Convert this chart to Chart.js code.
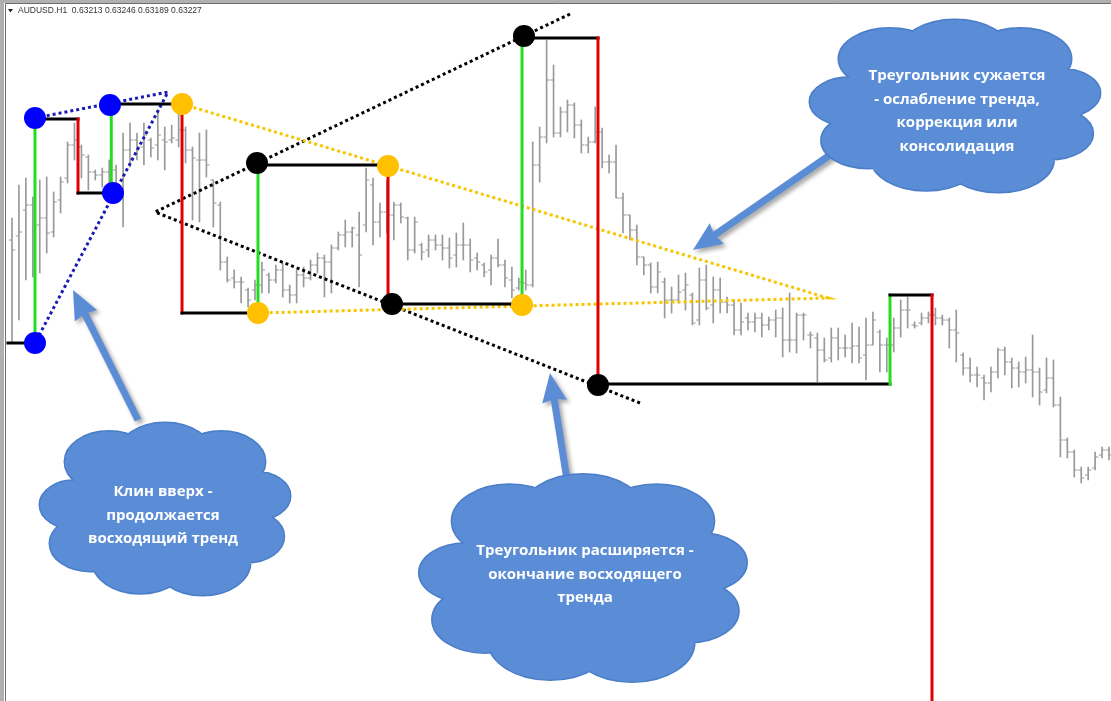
<!DOCTYPE html>
<html><head><meta charset="utf-8">
<script src="https://cdn.jsdelivr.net/npm/chart.js@4.4.0/dist/chart.umd.min.js"></script>
<style>html,body{margin:0;padding:0;background:#fff;overflow:hidden}</style>
</head><body>
<canvas id="c" width="1111" height="701" style="display:block;width:1111px;height:701px"></canvas>
<script>
// AUDUSD H1 bars, prices in points (1e-5)
const highPts = [63664,63730,63744,63706,63740,63746,63716,63746,63816,63854,
63810,63790,63760,63764,63780,63770,63834,63854,63834,63854,
63824,63874,63846,63850,63874,63846,63806,63834,63840,63740,
63696,63586,63560,63546,63524,63540,63576,63554,63570,63574,
63530,63560,63566,63580,63594,63590,63610,63636,63660,63646,
63676,63764,63744,63694,63740,63696,63694,63666,63666,63614,
63630,63630,63630,63624,63634,63654,63622,63594,63574,63590,
63622,63580,63566,63544,63560,63816,63846,64020,63970,63886,
63900,63894,63860,63826,63886,63844,63790,63810,63714,63670,
63650,63586,63574,63576,63544,63526,63550,63554,63514,63564,
63570,63546,63544,63506,63500,63494,63474,63474,63474,63466,
63480,63484,63514,63474,63474,63436,63434,63424,63444,63444,
63430,63454,63446,63464,63476,63440,63424,63464,63500,63506,
63456,63474,63476,63484,63470,63464,63480,63394,63384,63366,
63350,63366,63404,63406,63384,63376,63386,63430,63364,63384,
63380,63306,63224,63200,63166,63166,63196,63206,63206];
const lowPts = [63414,63460,63540,63546,63554,63594,63626,63674,63734,63780,
63744,63720,63740,63726,63710,63716,63646,63766,63780,63770,
63786,63780,63760,63814,63806,63774,63660,63656,63746,63646,
63560,63536,63524,63494,63486,63500,63514,63514,63534,63506,
63494,63494,63526,63540,63554,63506,63514,63600,63606,63606,
63526,63636,63610,63626,63634,63620,63654,63580,63594,63580,
63586,63600,63580,63564,63566,63580,63556,63560,63546,63530,
63566,63526,63504,63520,63520,63526,63736,63814,63826,63826,
63836,63824,63794,63794,63814,63764,63754,63704,63634,63620,
63570,63550,63514,63514,63464,63474,63494,63480,63450,63450,
63480,63454,63474,63474,63430,63430,63440,63436,63426,63440,
63426,63386,63396,63394,63420,63404,63336,63376,63376,63380,
63386,63374,63374,63340,63410,63356,63356,63396,63426,63444,
63444,63450,63454,63450,63450,63404,63376,63350,63336,63326,
63300,63316,63344,63350,63324,63326,63334,63306,63290,63314,
63286,63186,63184,63146,63134,63140,63160,63184,63180];
const openPts = [63620,63628,63680,63690,63650,63664,63636,63700,63744,63810,
63806,63786,63756,63750,63756,63760,63720,63800,63820,63806,
63820,63810,63820,63820,63820,63840,63800,63780,63780,63740,
63690,63576,63544,63536,63520,63520,63530,63550,63540,63560,
63520,63510,63550,63544,63570,63584,63576,63604,63630,63636,
63630,63650,63730,63656,63676,63670,63690,63664,63600,63610,
63600,63620,63610,63604,63590,63610,63610,63584,63570,63560,
63584,63570,63540,63524,63534,63530,63770,63826,63940,63834,
63876,63890,63850,63810,63816,63836,63776,63776,63704,63670,
63640,63586,63570,63526,63536,63500,63500,63520,63510,63460,
63540,63490,63520,63496,63490,63440,63464,63456,63464,63450,
63460,63464,63420,63420,63470,63430,63424,63400,63384,63424,
63404,63404,63408,63390,63410,63436,63410,63410,63444,63480,
63450,63454,63464,63470,63464,63460,63440,63390,63364,63350,
63344,63334,63356,63400,63376,63364,63356,63360,63356,63320,
63344,63290,63220,63196,63160,63150,63164,63190,63200];
const closePts = [63600,63636,63690,63640,63664,63634,63696,63736,63810,63820,
63790,63756,63750,63756,63770,63730,63800,63820,63806,63830,
63804,63830,63816,63824,63840,63800,63784,63780,63770,63694,
63576,63540,63536,63536,63500,63530,63560,63540,63560,63520,
63510,63550,63544,63570,63584,63576,63604,63630,63636,63644,
63590,63740,63656,63676,63670,63690,63666,63600,63656,63596,
63620,63610,63604,63584,63610,63610,63580,63576,63556,63584,
63570,63544,63520,63536,63530,63770,63826,63940,63834,63876,
63890,63850,63810,63816,63836,63776,63776,63704,63670,63640,
63586,63570,63526,63556,63500,63500,63516,63530,63454,63540,
63484,63520,63496,63490,63440,63456,63456,63464,63450,63460,
63464,63420,63420,63470,63470,63430,63400,63380,63424,63404,
63404,63408,63384,63410,63460,63410,63410,63444,63480,63480,
63448,63464,63470,63464,63460,63440,63434,63364,63350,63350,
63334,63356,63400,63376,63364,63356,63360,63356,63316,63344,
63290,63220,63196,63160,63144,63160,63186,63200,63190];

// swing path (bar index, price points)
const zigzag = [[-0.58,63414],[3.31,63414],[3.31,63862],[9.51,63862],[9.51,63714],[14.3,63714],[14.3,63892],
[24.49,63892],[24.49,63474],[35.43,63474],[35.43,63770],[54.16,63770],[54.16,63492],[73.46,63492],
[73.46,64024],[84.40,64024],[84.40,63332],[126.46,63332],[126.46,63510],[132.51,63510],[132.51,62600]];
const blueDots = [[3.31,63864],[14.11,63890],[14.55,63714],[3.31,63414]];
const yellowDots = [[24.49,63892],[35.43,63474],[54.16,63768],[73.46,63490]];
const blackDots = [[35.29,63774],[54.73,63492],[73.74,64028],[84.40,63330]];
const wedgeLines = [[3.31,63864],[22.47,63916],[3.31,63414]];
const narrowingLines = [[24.49,63892],[117.53,63504],[35.43,63474]];
const wideningLines = [[80.37,64072],[20.60,63676],[90.45,63294]];

const headerText = 'AUDUSD.H1  0.63213 0.63246 0.63189 0.63227';
const clouds = [
  {cx:135.82, cy:63888, w:290, h:172, tx:136.11, ty:63878, lines:['Треугольник сужается','- ослабление тренда,','коррекция или','консолидация']},
  {cx:22.04, cy:63082, w:250, h:172, tx:21.75, ty:63069, lines:['Клин вверх -','продолжается','восходящий тренд']},
  {cx:82.24, cy:62944, w:327, h:207, tx:82.53, ty:62951, lines:['Треугольник расширяется -','окончание восходящего','тренда']}
];
const arrows = [
  {from:[18.15,63260], to:[8.79,63520]},
  {from:[79.94,63140], to:[77.49,63354]},
  {from:[119.26,63804], to:[98.08,63600]}
];

const pts = a => a.map(p => ({x:p[0], y:p[1]}));
const barColor = '#999999';

function cloudShape(ctx, cx, cy, w, h){
  const bumps = [[0,0,0.7],[-0.45,-0.55,0.35],[0,-0.62,0.38],[0.45,-0.55,0.35],[0.72,-0.15,0.28],
    [0.65,0.32,0.3],[0.3,0.62,0.38],[-0.2,0.6,0.38],[-0.6,0.4,0.32],[-0.72,-0.05,0.28]];
  ctx.beginPath();
  for (const [u,v,r] of bumps){
    const ex=cx+u*w/2, ey=cy+v*h/2, rx=r*w/2, ry=r*h/2;
    ctx.moveTo(ex+rx, ey);
    ctx.ellipse(ex, ey, rx, ry, 0, 0, Math.PI*2);
  }
}
function drawArrow(ctx, x0,y0,x1,y1){
  const ang=Math.atan2(y1-y0,x1-x0), len=Math.hypot(x1-x0,y1-y0);
  const sw=3.5, hl=27, hw=12.5;
  ctx.save();
  ctx.translate(x0,y0); ctx.rotate(ang);
  ctx.beginPath();
  ctx.moveTo(0,-sw); ctx.lineTo(len-hl,-sw); ctx.lineTo(len-hl-2,-hw); ctx.lineTo(len,0);
  ctx.lineTo(len-hl-2,hw); ctx.lineTo(len-hl,sw); ctx.lineTo(0,sw); ctx.closePath();
  ctx.shadowColor='rgba(0,0,0,0.35)'; ctx.shadowBlur=4; ctx.shadowOffsetX=3; ctx.shadowOffsetY=3;
  ctx.fillStyle='#5b8dd6'; ctx.fill();
  ctx.restore();
}

const deco = {
  id:'deco',
  beforeDraw(chart){
    const c=chart.ctx; c.save(); c.fillStyle='#fff'; c.fillRect(0,0,chart.width,chart.height); c.restore();
  },
  afterDatasetsDraw(chart){
    const c=chart.ctx, xs=chart.scales.x, ys=chart.scales.y;
    c.save();
    for (const a of arrows){
      drawArrow(c, xs.getPixelForValue(a.from[0]), ys.getPixelForValue(a.from[1]),
                   xs.getPixelForValue(a.to[0]), ys.getPixelForValue(a.to[1]));
    }
    for (const cl of clouds){
      const cx=xs.getPixelForValue(cl.cx), cy=ys.getPixelForValue(cl.cy);
      cloudShape(c, cx, cy, cl.w, cl.h);
      c.lineWidth=3; c.strokeStyle='#4b7ec8'; c.stroke();
      c.fillStyle='#5b8dd6'; c.fill();
      const tx=xs.getPixelForValue(cl.tx), ty=ys.getPixelForValue(cl.ty);
      c.fillStyle='#fff'; c.font="bold 15px 'Open Sans'"; c.textAlign='center'; c.textBaseline='middle';
      const lh=23.5, n=cl.lines.length;
      cl.lines.forEach((t,i)=> c.fillText(t, tx, ty + (i-(n-1)/2)*lh));
    }
    // terminal frame
    c.fillStyle='#b0b0b0'; c.fillRect(0,0,chart.width,3); c.fillRect(0,0,4,chart.height);
    c.strokeStyle='#6e6e6e'; c.lineWidth=1;
    c.beginPath(); c.moveTo(5.5,3.5); c.lineTo(chart.width,3.5); c.moveTo(5.5,3.5); c.lineTo(5.5,chart.height); c.stroke();
    // header
    c.fillStyle='#222'; c.beginPath(); c.moveTo(8,9); c.lineTo(13,9); c.lineTo(10.5,12.5); c.closePath(); c.fill();
    c.font="8.5px 'Liberation Sans'"; c.textAlign='left'; c.textBaseline='middle'; c.fillStyle='#333';
    c.fillText(headerText, 18, 11);
    c.restore();
  }
};

const barData = highPts.map((h,i)=>({x:i, y:[lowPts[i], h]}));
const openData = openPts.map((v,i)=>({x:i-0.22, y:v}));
const closeData = closePts.map((v,i)=>({x:i+0.22, y:v}));

new Chart(document.getElementById('c'), {
  type:'bar',
  data:{datasets:[
    {type:'bar', data:barData, backgroundColor:barColor, borderWidth:0, barThickness:1, order:10},
    {type:'scatter', data:openData, pointStyle:'line', pointRadius:1.6, borderColor:barColor, pointBorderColor:barColor, pointBorderWidth:1, order:9},
    {type:'scatter', data:closeData, pointStyle:'line', pointRadius:1.6, borderColor:barColor, pointBorderColor:barColor, pointBorderWidth:1, order:9},
    {type:'line', data:pts(wedgeLines), borderColor:'#1a1ab4', borderWidth:3, borderDash:[3,3], pointRadius:0, tension:0, fill:false, order:6},
    {type:'line', data:pts(narrowingLines), borderColor:'#f7c600', borderWidth:3, borderDash:[3,3], pointRadius:0, tension:0, fill:false, order:6},
    {type:'line', data:pts(wideningLines), borderColor:'#000', borderWidth:3, borderDash:[3,3], pointRadius:0, tension:0, fill:false, order:6},
    {type:'line', data:pts(zigzag), borderWidth:3, pointRadius:0, tension:0, fill:false, borderCapStyle:'square', order:5,
      borderColor:'#000',
      segment:{borderColor: ctx => {
        const a=ctx.p0.parsed.y, b=ctx.p1.parsed.y;
        if (Math.abs(a-b) < 1e-6) return '#000';
        return b > a ? '#22dd22' : '#e00000';
      }}},
    {type:'scatter', data:pts(blueDots), pointRadius:11, pointBackgroundColor:'#0000ff', pointBorderWidth:0, order:1},
    {type:'scatter', data:pts(yellowDots), pointRadius:11, pointBackgroundColor:'#ffc000', pointBorderWidth:0, order:1},
    {type:'scatter', data:pts(blackDots), pointRadius:11, pointBackgroundColor:'#000', pointBorderWidth:0, order:1}
  ]},
  options:{
    responsive:false, animation:false, devicePixelRatio:1, events:[],
    layout:{padding:0, autoPadding:false},
    plugins:{legend:{display:false}, tooltip:{enabled:false}},
    scales:{
      x:{type:'linear', min:-1.728, max:158.29, display:false, offset:false, grid:{display:false}},
      y:{type:'linear', min:62698, max:64100, display:false, grid:{display:false}}
    }
  },
  plugins:[deco]
});
</script>
</body></html>
